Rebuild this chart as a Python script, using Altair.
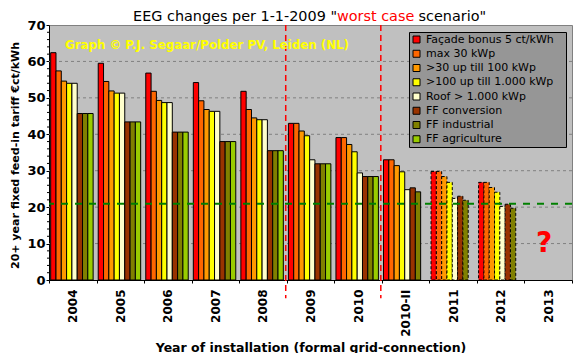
import altair as alt
import pandas as pd

years = ["2004", "2005", "2006", "2007", "2008", "2009", "2010", "2010-II", "2011", "2012", "2013"]
series = ["Façade bonus 5 ct/kWh", "max 30 kWp", ">30 up till 100 kWp", ">100 up till 1.000 kWp",
          "Roof > 1.000 kWp", "FF conversion", "FF industrial", "FF agriculture"]
colors = ["#FF0000", "#FF6600", "#FF9900", "#FFFF00", "#FFFFCC", "#993300", "#808000", "#99CC00"]

facade   = [62.4, 59.5, 56.8, 54.2, 51.8, 43.0, 39.1, 33.0, 29.8, 26.8, None]
max30    = [57.4, 54.5, 51.8, 49.2, 46.8, 43.0, 39.1, 33.0, 29.8, 26.8, None]
upto100  = [54.6, 51.9, 49.3, 46.8, 44.5, 40.9, 37.2, 31.4, 28.4, 25.4, None]
upto1000 = [54.0, 51.3, 48.7, 46.3, 44.0, 39.6, 35.2, 29.7, 26.8, 24.1, None]
roof1000 = [54.0, 51.3, 48.7, 46.3, 44.0, 33.0, 29.4, 24.8, 22.4, 20.2, None]
ff_conv  = [45.7, 43.4, 40.6, 38.0, 35.5, 31.9, 28.4, 25.3, 23.0, 20.8, None]
ff_ind   = [45.7, 43.4, 40.6, 38.0, 35.5, 31.9, 28.4, 24.2, 21.9, 19.7, None]
ff_agri  = [45.7, 43.4, 40.6, 38.0, 35.5, 31.9, 28.4, None, None, None, None]

projected_years = ["2011", "2012"]
reference_price = [20.9]
regime_changes = ["2009", "2010-II"]
regime_top = [70, 70]
regime_bottom = [-5, -5]
unknown_year = ["2013"]
unknown_level = [10]
y_major = [0, 10, 20, 30, 40, 50, 60, 70]
y_minor = [2, 4, 6, 8, 12, 14, 16, 18, 22, 24, 26, 28, 32, 34, 36, 38,
           42, 44, 46, 48, 52, 54, 56, 58, 62, 64, 66, 68]
y_grid = [10, 20, 30, 40, 50, 60]

title_left = 'EEG changes per 1-1-2009 "'
title_red = "worst case"
title_right = 'scenario"'
watermark = "Graph © P.J. Segaar/Polder PV, Leiden (NL)"

all_series = [facade, max30, upto100, upto1000, roof1000, ff_conv, ff_ind, ff_agri]
rows = []
for s, vals in zip(series, all_series):
    for yr, v in zip(years, vals):
        if v is not None:
            rows.append({"year": yr, "series": s, "value": v,
                         "style": "dashed" if yr in projected_years else "solid"})
df = pd.DataFrame(rows)

FONT = "DejaVu Sans"
W, H = 523, 255

x_axis = alt.Axis(labelAngle=-90, labelAlign="right", labelBaseline="middle",
                  labelFontWeight="bold", labelFontSize=12, labelColor="black",
                  labelPadding=6, tickBand="extent", tickSize=3, tickColor="black",
                  domainColor="black", grid=False, labelOverlap=False,
                  titleFontWeight="bold", titleFontSize=12.5, titleColor="black",
                  titleY=71, titleBaseline="alphabetic")
y_axis = alt.Axis(values=y_major, labelFontWeight="bold", labelFontSize=13,
                  labelColor="black", labelPadding=1, tickSize=3, labelOverlap=False,
                  tickColor="black", domainColor="black", grid=False,
                  titleFontWeight="bold", titleFontSize=11, titleColor="black",
                  titleX=-34, titleY=130, titleBaseline="middle", titleAlign="center")

x_scale = alt.Scale(domain=years, paddingInner=0, paddingOuter=0)
y_scale = alt.Scale(domain=[0, 70], nice=False)
x_title = "Year of installation (formal grid-connection)"
y_title = "20+ year fixed feed-in tariff €ct/kWh"


def X(**kw):
    return alt.X("year:N", scale=x_scale, axis=x_axis, title=x_title, **kw)


def Y():
    return alt.Y("value:Q", scale=y_scale, axis=y_axis, title=y_title)


color = alt.Color("series:N", sort=series, scale=alt.Scale(domain=series, range=colors),
                  legend=alt.Legend(title=".", titleOrient="right", titleFontSize=6,
                                    titleColor="#969696", titlePadding=7,
                                    orient="none", legendX=360, legendY=7,
                                    fillColor="#969696", strokeColor="black", padding=2,
                                    symbolType="square", symbolSize=49,
                                    symbolStrokeColor="black", symbolStrokeWidth=1,
                                    symbolOpacity=1,
                                    labelFontSize=11, labelFont=FONT, labelColor="black",
                                    rowPadding=2.25, labelOffset=4))
xoff = alt.XOffset("series:N", sort=series,
                   scale=alt.Scale(domain=series, paddingInner=0, paddingOuter=0.48, align=0.33))

grid = alt.Chart(pd.DataFrame({"value": y_grid})).mark_rule(
    color="#808080", strokeWidth=1, strokeDash=[3, 3]).encode(y=Y())

minor = alt.Chart(pd.DataFrame({"value": y_minor})).mark_rule(
    color="black", strokeWidth=1).encode(y=Y(), x=alt.value(-2), x2=alt.value(0))

base = alt.Chart(df)
solid = base.transform_filter(alt.datum.style == "solid").mark_bar(
    stroke="black", strokeWidth=1).encode(x=X(), xOffset=xoff, y=Y(), color=color)
dashed = base.transform_filter(alt.datum.style == "dashed").mark_bar(
    stroke="black", strokeWidth=1, strokeDash=[3, 2]).encode(x=X(), xOffset=xoff, y=Y(), color=color)

green = alt.Chart(pd.DataFrame({"value": reference_price})).mark_rule(
    color="#008000", strokeWidth=2, strokeDash=[7, 7]).encode(y=Y())

red = alt.Chart(pd.DataFrame({"year": regime_changes, "value": regime_top,
                              "bottom": regime_bottom})).mark_rule(
    color="#FF0000", strokeWidth=1.5, strokeDash=[6, 4], xOffset=-1).encode(
    x=X(bandPosition=0), y=Y(), y2=alt.Y2("bottom:Q"))

question = alt.Chart(pd.DataFrame({"year": unknown_year, "value": unknown_level})).mark_text(
    text="?", color="#FF0000", fontSize=28, fontWeight="bold", baseline="middle", dx=-4,
    font=FONT).encode(x=X(), y=Y())

wm = alt.Chart(pd.DataFrame({"t": [watermark]})).mark_text(
    align="left", baseline="middle", color="#FFFF00", fontWeight="bold", fontSize=11.8,
    font=FONT).encode(x=alt.value(16), y=alt.value(20), text="t:N")

tdf = pd.DataFrame({"a": [title_left], "b": [title_red], "c": [title_right]})
t1 = alt.Chart(tdf).mark_text(align="right", baseline="alphabetic", fontSize=14.4, color="black",
                              font=FONT).encode(x=alt.value(288), y=alt.value(-4), text="a:N")
t2 = alt.Chart(tdf).mark_text(align="center", baseline="alphabetic", fontSize=14.4, color="#FF0000",
                              font=FONT).encode(x=alt.value(326.6), y=alt.value(-4), text="b:N")
t3 = alt.Chart(tdf).mark_text(align="left", baseline="alphabetic", fontSize=14.4, color="black",
                              font=FONT).encode(x=alt.value(369.6), y=alt.value(-4), text="c:N")

chart = alt.layer(grid, minor, solid, dashed, green, red, question, wm, t1, t2, t3).properties(
    width=W, height=H,
    autosize=alt.AutoSizeParams(type="none"),
    padding={"left": 41, "top": 17, "right": 1, "bottom": 73},
    background="white",
).configure(font=FONT).configure_axis(labelOverlap=False).configure_view(
    fill="#C0C0C0", stroke="#808080", strokeWidth=1)

chart.save("out.html", embed_options={"renderer": "svg", "actions": False})
